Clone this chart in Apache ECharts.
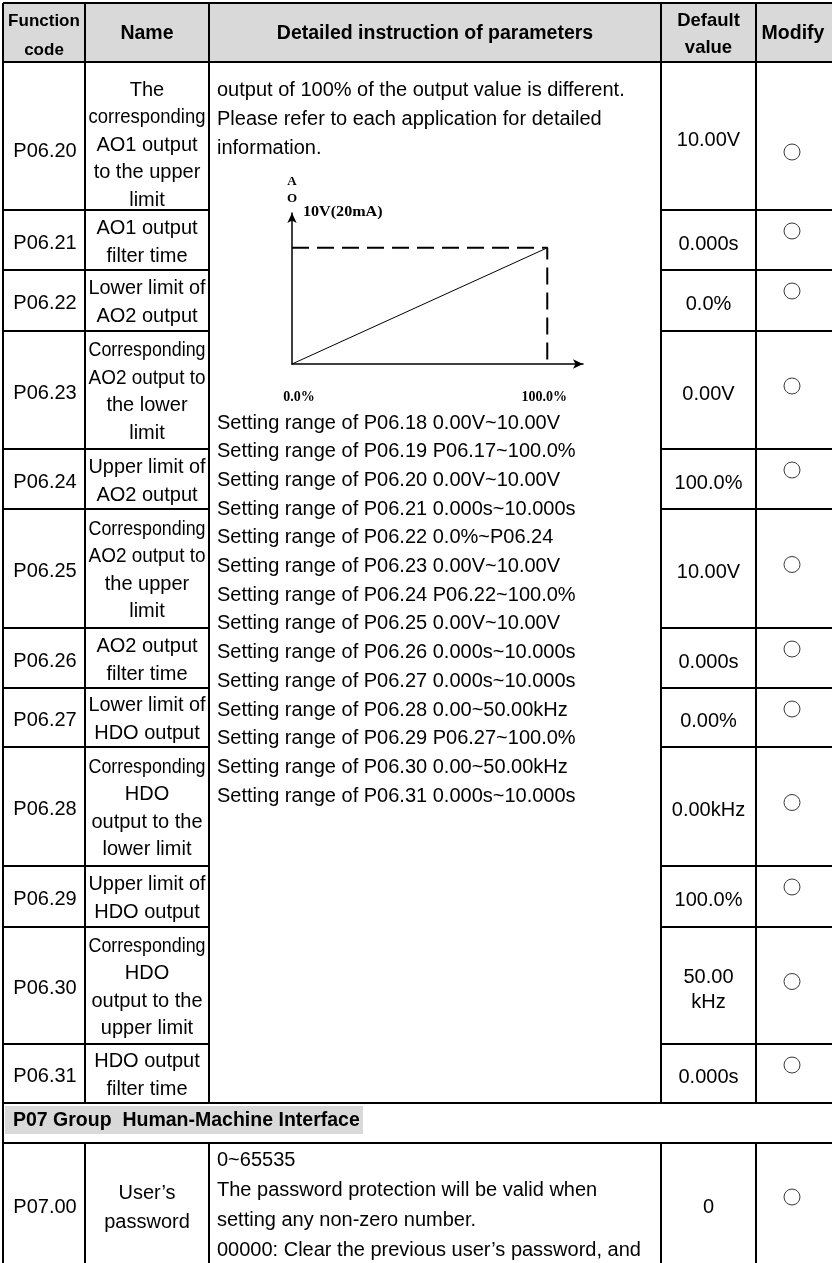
<!DOCTYPE html>
<html>
<head>
<meta charset="utf-8">
<script src="https://cdn.jsdelivr.net/npm/echarts@6/dist/echarts.min.js"></script>
<style>
html,body{margin:0;padding:0;background:#fff;}
#main{width:832px;height:1263px;}
</style>
</head>
<body>
<div id="main"></div>
<script>
// ---------------- DATA ----------------
const headerCode = ['Function', 'code'];
const headerName = 'Name';
const headerDesc = 'Detailed instruction of parameters';
const headerDefault = ['Default', 'value'];
const headerModify = 'Modify';

const codes = ['P06.20','P06.21','P06.22','P06.23','P06.24','P06.25','P06.26','P06.27','P06.28','P06.29','P06.30','P06.31'];
const names = [
  ['The','corresponding','AO1 output','to the upper','limit'],
  ['AO1 output','filter time'],
  ['Lower limit of','AO2 output'],
  ['Corresponding','AO2 output to','the lower','limit'],
  ['Upper limit of','AO2 output'],
  ['Corresponding','AO2 output to','the upper','limit'],
  ['AO2 output','filter time'],
  ['Lower limit of','HDO output'],
  ['Corresponding','HDO','output to the','lower limit'],
  ['Upper limit of','HDO output'],
  ['Corresponding','HDO','output to the','upper limit'],
  ['HDO output','filter time']
];
const defaults = [['10.00V'],['0.000s'],['0.0%'],['0.00V'],['100.0%'],['10.00V'],['0.000s'],['0.00%'],['0.00kHz'],['100.0%'],['50.00','kHz'],['0.000s']];
const modifyMark = '○';

const introLines = [
  'output of 100% of the output value is different.',
  'Please refer to each application for detailed',
  'information.'
];
const settingRanges = [
  'Setting range of P06.18 0.00V~10.00V',
  'Setting range of P06.19 P06.17~100.0%',
  'Setting range of P06.20 0.00V~10.00V',
  'Setting range of P06.21 0.000s~10.000s',
  'Setting range of P06.22 0.0%~P06.24',
  'Setting range of P06.23 0.00V~10.00V',
  'Setting range of P06.24 P06.22~100.0%',
  'Setting range of P06.25 0.00V~10.00V',
  'Setting range of P06.26 0.000s~10.000s',
  'Setting range of P06.27 0.000s~10.000s',
  'Setting range of P06.28 0.00~50.00kHz',
  'Setting range of P06.29 P06.27~100.0%',
  'Setting range of P06.30 0.00~50.00kHz',
  'Setting range of P06.31 0.000s~10.000s'
];
const groupTitle = 'P07 Group  Human-Machine Interface';
const p07Code = 'P07.00';
const p07Name = ['User’s', 'password'];
const p07Desc = [
  '0~65535',
  'The password protection will be valid when',
  'setting any non-zero number.',
  '00000: Clear the previous user’s password, and'
];
const p07Default = '0';

// mini diagram (AO output vs. setting %)
const aoPercent = [0, 100];
const aoVolt = [0, 10];
const limitPercent = 100;
const limitVolt = 10;
const xTickLabels = {0: '0.0%', 100: '100.0%'};
const yAxisName = 'A\nO';
const topLevelLabel = '10V(20mA)';

// ---------------- LAYOUT ----------------
const colX = [3, 85, 209, 661, 756];
const rightX = 834;
const headerTop = 3, headerBottom = 62;
const rowTops = [62,210,270,331,449,509,628,688,747,866,927,1044];
const tableBottom = 1103;
const groupBottom = 1143;
const pageBottom = 1263;
const SANS = 'Liberation Sans, Arial, sans-serif';
const SERIF = 'Liberation Serif, Times New Roman, serif';
const FS = 20;

const ctx = document.createElement('canvas').getContext('2d');
function textWidth(t, size, weight) {
  ctx.font = (weight || 'normal') + ' ' + size + 'px ' + SANS;
  return ctx.measureText(t).width;
}

const g = [];
function line(x1, y1, x2, y2, w) {
  g.push({type: 'line', shape: {x1, y1, x2, y2}, style: {stroke: '#000', lineWidth: w || 2}, z: 10});
}
function text(t, x, y, opt) {
  opt = opt || {};
  const size = opt.size || FS;
  const weight = opt.weight || 'normal';
  let sx = opt.scaleX || 1;
  if (opt.maxWidth) {
    const w = textWidth(t, size, weight);
    if (w > opt.maxWidth) sx = opt.maxWidth / w;
  }
  g.push({
    type: 'text', x: x, y: y, scaleX: sx, z: 12,
    style: {
      text: t, x: 0, y: 0,
      fontSize: size, fontFamily: opt.family || SANS, fontWeight: weight,
      fill: opt.color || '#000',
      align: opt.align || 'center', verticalAlign: 'middle'
    }
  });
}
function circle(cx, cy) {
  g.push({type: 'circle', shape: {cx, cy, r: 8}, style: {fill: '#fff', stroke: '#3a3a3a', lineWidth: 1}, z: 12});
}

// header background
g.push({type: 'rect', shape: {x: colX[0], y: headerTop, width: rightX - colX[0], height: headerBottom - headerTop}, style: {fill: '#d9d9d9'}, z: 1});
text(headerCode[0], (colX[0] + colX[1]) / 2, 21, {size: 17, weight: 'bold'});
text(headerCode[1], (colX[0] + colX[1]) / 2, 50, {size: 17, weight: 'bold'});
text(headerName, (colX[1] + colX[2]) / 2, 34, {size: 19.5, weight: 'bold'});
text(headerDesc, (colX[2] + colX[3]) / 2, 34, {size: 19.5, weight: 'bold'});
text(headerDefault[0], (colX[3] + colX[4]) / 2, 21, {size: 18.5, weight: 'bold'});
text(headerDefault[1], (colX[3] + colX[4]) / 2, 48, {size: 18.5, weight: 'bold'});
text(headerModify, (colX[4] + rightX) / 2 - 2, 34, {size: 19.5, weight: 'bold'});

// horizontal lines
line(colX[0], headerTop, rightX, headerTop);
line(colX[0], headerBottom, rightX, headerBottom);
rowTops.forEach(function (t, i) {
  if (i === 0) return;
  line(colX[0], t, colX[2], t);
  line(colX[3], t, rightX, t);
});
line(colX[0], tableBottom, rightX, tableBottom);
line(colX[0], groupBottom, rightX, groupBottom);

// vertical lines
colX.forEach(function (x, i) {
  if (i === 0) { line(x, headerTop, x, pageBottom); return; }
  line(x, headerTop, x, tableBottom);
  line(x, groupBottom, x, pageBottom);
});

// rows
const nameCx = (colX[1] + colX[2]) / 2;
const codeCx = (colX[0] + colX[1]) / 2 + 1;
const defCx = (colX[3] + colX[4]) / 2;
const modCx = (colX[4] + rightX) / 2 - 3;
codes.forEach(function (code, i) {
  const top = rowTops[i];
  const bot = i + 1 < rowTops.length ? rowTops[i + 1] : tableBottom;
  const c = (top + bot) / 2;
  const n = names[i].length;
  const shift = n === 5 ? 12 : 0;
  text(code, codeCx, c + 3 + shift);
  const lh = n >= 4 ? 27.5 : 28;
  const nc = c + 2 + (n === 5 ? 7 : 0);
  names[i].forEach(function (nm, j) {
    text(nm, nameCx, nc + (j - (n - 1) / 2) * lh, {maxWidth: 117});
  });
  const d = defaults[i];
  d.forEach(function (dv, j) {
    text(dv, defCx, c + 4 + (j - (d.length - 1) / 2) * 25);
  });
  let cy;
  if (n === 5) cy = c + 16;
  else if (n === 4) cy = c - 4;
  else cy = top + 21;
  circle(modCx, cy);
});

// description column
const descX = 217;
introLines.forEach(function (t, j) { text(t, descX, 90 + j * 29, {align: 'left'}); });
settingRanges.forEach(function (t, j) { text(t, descX, 423 + j * 28.7, {align: 'left'}); });

// group row
g.push({type: 'rect', shape: {x: 5, y: 1106, width: 358, height: 28}, style: {fill: '#d9d9d9'}, z: 2});
text(groupTitle, 13, 1121, {align: 'left', weight: 'bold', size: 19.5});

// P07.00 row
text(p07Code, codeCx, 1207);
p07Name.forEach(function (t, j) { text(t, nameCx, 1193 + j * 29); });
p07Desc.forEach(function (t, j) { text(t, descX, 1160 + j * 30, {align: 'left'}); });
text(p07Default, defCx, 1207);
circle(modCx, 1197);

// label at the top of diagram
text(topLevelLabel, 303, 212, {align: 'left', family: SERIF, weight: 'bold', size: 14, scaleX: 1.15});

// ---------------- CHART ----------------
const chart = echarts.init(document.getElementById('main'), null, {renderer: 'canvas'});
const originY = 364;
const originX = 292;
const option = {
  animation: false,
  backgroundColor: '#fff',
  grid: {left: originX, top: 213, width: 291, height: originY - 213},
  xAxis: {
    type: 'value', min: 0, max: 114, interval: 100,
    axisLine: {show: true, lineStyle: {color: '#000', width: 1.5}, symbol: ['none', 'arrow'], symbolSize: [7, 10]},
    axisTick: {show: false},
    splitLine: {show: false},
    axisLabel: {
      show: true, margin: 26, showMinLabel: true, showMaxLabel: false,
      formatter: function (v) {
        if (v === 0) return '{a|' + xTickLabels[0] + '}';
        return xTickLabels[v] ? '{b|' + xTickLabels[v] + '}' : '';
      },
      rich: {
        a: {fontFamily: SERIF, fontWeight: 'bold', fontSize: 14, color: '#000', padding: [0, 0, 0, 14]},
        b: {fontFamily: SERIF, fontWeight: 'bold', fontSize: 14, color: '#000', padding: [0, 6, 0, 0]}
      }
    }
  },
  yAxis: {
    type: 'value', min: 0, max: 13,
    name: yAxisName, nameLocation: 'end', nameGap: 6,
    nameTextStyle: {fontFamily: SERIF, fontWeight: 'bold', fontSize: 13, color: '#000', lineHeight: 17, align: 'center'},
    axisLine: {show: true, lineStyle: {color: '#000', width: 1.5}, symbol: ['none', 'arrow'], symbolSize: [7, 10]},
    axisTick: {show: false},
    axisLabel: {show: false},
    splitLine: {show: false}
  },
  series: [
    {
      type: 'line', data: aoPercent.map(function (p, i) { return [p, aoVolt[i]]; }),
      symbol: 'none', lineStyle: {color: '#000', width: 1}, z: 3
    },
    {
      type: 'line', data: [[0, limitVolt], [limitPercent, limitVolt], [limitPercent, 0]],
      symbol: 'none', lineStyle: {color: '#000', width: 2, type: [17, 8]}, z: 2
    }
  ],
  graphic: g
};
chart.setOption(option);
</script>
</body>
</html>
